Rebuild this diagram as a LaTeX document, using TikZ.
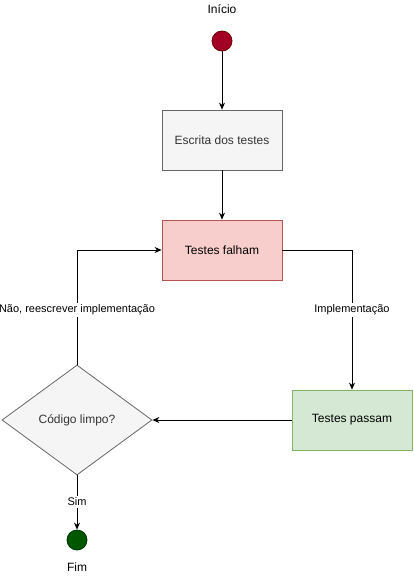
\documentclass[tikz,border=0pt]{standalone}
\usepackage{fontspec}
\setmainfont{Liberation Sans}
\usetikzlibrary{shapes.geometric,arrows.meta}
\definecolor{startfill}{HTML}{A20025}
\definecolor{startline}{HTML}{6F0000}
\definecolor{endfill}{HTML}{005700}
\definecolor{endline}{HTML}{003300}
\definecolor{grayfill}{HTML}{F5F5F5}
\definecolor{grayline}{HTML}{666666}
\definecolor{graytext}{HTML}{333333}
\definecolor{redfill}{HTML}{F8CECC}
\definecolor{redline}{HTML}{B85450}
\definecolor{greenfill}{HTML}{D5E8D4}
\definecolor{greenline}{HTML}{82B366}
\tikzset{
  every node/.style={font=\fontsize{12}{14}\selectfont},
  procbox/.style={rectangle, minimum width=120pt, minimum height=60pt, inner sep=0pt, line width=0.8pt},
  dot/.style={circle, minimum size=20pt, inner sep=0pt, line width=0.8pt},
  lbl/.style={font=\fontsize{11}{13}\selectfont, fill=white, inner sep=1.5pt},
  captext/.style={font=\fontsize{12}{14}\selectfont},
  conn/.style={line width=0.8pt, -{Stealth[length=7pt,width=6pt]}},
}
\begin{document}
\begin{tikzpicture}[x=1pt,y=-1pt]
\useasboundingbox (0,0) rectangle (413,581);
\node[captext] (tini) at (222,9) {Início};
\node[dot, fill=startfill, draw=startline] (ini) at (222,41) {};
\node[procbox, fill=grayfill, draw=grayline, text=graytext] (esc) at (222,140) {Escrita dos testes};
\node[procbox, fill=redfill, draw=redline] (fal) at (222,250) {Testes falham};
\node[procbox, fill=greenfill, draw=greenline] (pas) at (352,420) {Testes passam};
\node[diamond, aspect=1.3636, minimum width=150pt, minimum height=110pt, inner sep=0pt, fill=grayfill, draw=grayline, text=graytext, line width=0.8pt] (dia) at (77,420) {Código limpo?};
\node[dot, fill=endfill, draw=endline] (fim) at (77,540) {};
\node[captext] (tfim) at (77,567) {Fim};
\coordinate (c1) at (352,250);
\coordinate (c2) at (77,250);
\draw[conn] (ini) -- (esc);
\draw[conn] (esc) -- (fal);
\draw[conn] (fal.east) -- (c1) -- (pas.north);
\draw[conn] (pas.west) -- (dia.east);
\draw[conn] (dia.north) -- (c2) -- (fal.west);
\draw[conn] (dia.south) -- (fim.north);
\node[lbl] (l1) at (352,310) {Implementação};
\node[lbl] (l2) at (77,310) {Não, reescrever implementação};
\node[lbl] (l3) at (77,502) {Sim};
\end{tikzpicture}
\end{document}
